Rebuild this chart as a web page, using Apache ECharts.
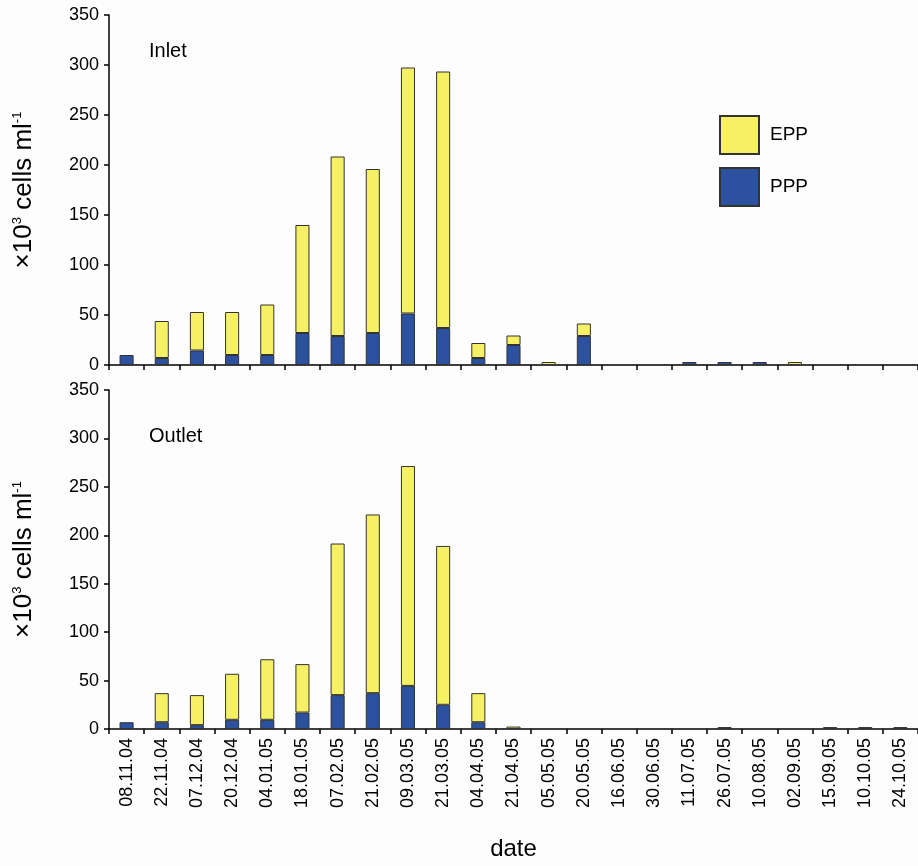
<!DOCTYPE html>
<html>
<head>
<meta charset="utf-8">
<script src="https://cdn.jsdelivr.net/npm/echarts@6/dist/echarts.min.js"></script>
<style>html,body{margin:0;padding:0;background:#fdfdfd;}#c{width:918px;height:866px;}</style>
</head>
<body>
<div id="c"></div>
<script>
var categories = ['08.11.04','22.11.04','07.12.04','20.12.04','04.01.05','18.01.05','07.02.05','21.02.05','09.03.05','21.03.05','04.04.05','21.04.05','05.05.05','20.05.05','16.06.05','30.06.05','11.07.05','26.07.05','10.08.05','02.09.05','15.09.05','10.10.05','24.10.05'];
var yTicks = [0, 50, 100, 150, 200, 250, 300, 350];
var inletPPP  = [10, 7, 14.5, 10, 10, 32, 29, 32, 51.5, 37, 7, 20, null, 29, null, null, 3, 3, 3, null, null, null, null];
var inletEPP  = [null, 37, 38.5, 43, 50.5, 108, 179.5, 164, 246, 256.5, 15, 9.5, 3, 12.5, null, null, null, null, null, 3, null, null, null];
var outletPPP = [7, 7, 4, 9.5, 9.5, 17, 35, 37, 44.5, 25, 7, null, null, null, null, null, null, 2, null, null, 2, 2, 2];
var outletEPP = [null, 30, 31, 47.5, 62.5, 50, 156.5, 184.5, 227, 164, 30, 2.5, null, null, null, null, null, null, null, null, null, null, null];

var FONT = '"Liberation Sans", Arial, sans-serif';
var YELLOW = '#f5f064', BLUE = '#2c519e';

var chart = echarts.init(document.getElementById('c'));
function yAxis(idx) {
  return {
    type: 'value', gridIndex: idx, min: yTicks[0], max: yTicks[yTicks.length - 1], interval: 50,
    axisLine: {show: true, lineStyle: {color: '#000', width: 1.5}},
    axisTick: {show: true, length: 5, lineStyle: {color: '#000', width: 1.5}},
    splitLine: {show: false},
    axisLabel: {color: '#000', fontSize: 18, fontFamily: FONT, margin: 10},
    name: '{a|×10}{s|3}{a| cells ml}{s|-1}',
    nameLocation: 'middle', nameRotate: 90, nameGap: 72,
    nameTextStyle: {
      rich: {
        a: {fontSize: 26, fontFamily: FONT, color: '#000'},
        s: {fontSize: 13, fontFamily: FONT, color: '#000', verticalAlign: 'top', padding: [0, 0, 12, 0]}
      }
    }
  };
}
function xAxis(idx, showLabel) {
  return {
    type: 'category', gridIndex: idx, data: categories,
    axisLine: {show: true, lineStyle: {color: '#000', width: 1.5}},
    axisTick: {show: true, length: 5, lineStyle: {color: '#000', width: 1.5}},
    axisLabel: {show: showLabel, rotate: 90, color: '#000', fontSize: 18, fontFamily: FONT, margin: 9, interval: 0},
    name: showLabel ? 'date' : '',
    nameLocation: 'middle', nameGap: 108,
    nameTextStyle: {fontSize: 24, fontFamily: FONT, color: '#000'}
  };
}
function bar(name, data, color, idx) {
  return {
    name: name, type: 'bar', stack: 's' + idx, xAxisIndex: idx, yAxisIndex: idx,
    data: data, barWidth: '40%',
    itemStyle: {color: color, borderColor: '#333', borderWidth: 1},
    emphasis: {disabled: true}
  };
}
chart.setOption({
  backgroundColor: '#fdfdfd',
  animation: false,
  title: [
    {text: 'Inlet', left: 144, top: 36, textStyle: {fontSize: 20, fontWeight: 'normal', fontFamily: FONT, color: '#000'}},
    {text: 'Outlet', left: 144, top: 421, textStyle: {fontSize: 20, fontWeight: 'normal', fontFamily: FONT, color: '#000'}}
  ],
  legend: {
    data: ['EPP', 'PPP'], orient: 'vertical', left: 714, top: 110,
    itemWidth: 39, itemHeight: 38, itemGap: 12, icon: 'rect',
    textStyle: {fontSize: 19, fontFamily: FONT, color: '#000', padding: [0, 0, 0, 6]}
  },
  grid: [
    {left: 109, right: 0, top: 15, height: 350},
    {left: 109, right: 0, top: 390, height: 339}
  ],
  xAxis: [xAxis(0, false), xAxis(1, true)],
  yAxis: [yAxis(0), yAxis(1)],
  series: [
    bar('PPP', inletPPP, BLUE, 0),
    bar('EPP', inletEPP, YELLOW, 0),
    bar('PPP', outletPPP, BLUE, 1),
    bar('EPP', outletEPP, YELLOW, 1)
  ]
});
</script>
</body>
</html>
